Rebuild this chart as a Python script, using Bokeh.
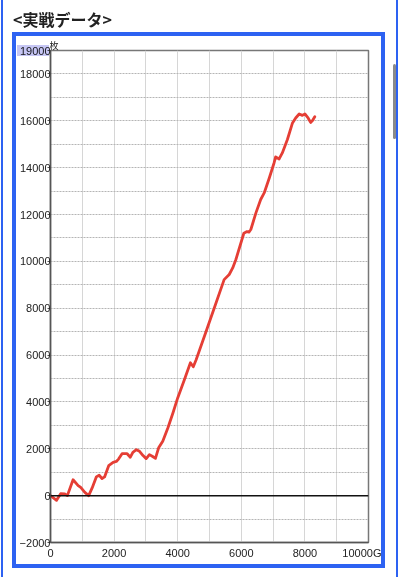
from bokeh.plotting import figure
from bokeh.models import Div, FixedTicker, Span
from bokeh.layouts import column
from bokeh.embed import file_html
from bokeh.resources import INLINE

games = [0, 190, 320, 450, 530, 710, 870, 950, 1080, 1200, 1310, 1440, 1530, 1620,
         1700, 1830, 1970, 2070, 2140, 2250, 2410, 2510, 2590, 2700, 2800, 2910, 3010,
         3110, 3200, 3300, 3400, 3530, 3690, 3850, 4000, 4210, 4400, 4490, 4580, 4840,
         5150, 5460, 5620, 5730, 5830, 6080, 6180, 6240, 6300, 6460, 6610, 6720, 6880,
         7030, 7080, 7190, 7290, 7450, 7610, 7710, 7820, 7920, 8000, 8100, 8180, 8240, 8310]
coins = [0, -200, 80, 70, 0, 680, 430, 350, 140, 0, 330, 800, 870, 730,
         800, 1280, 1420, 1460, 1560, 1790, 1790, 1640, 1850, 1960, 1890, 1710, 1580,
         1750, 1680, 1590, 2040, 2320, 2890, 3530, 4170, 4950, 5670, 5500, 5800, 6800,
         8010, 9220, 9440, 9720, 10080, 11200, 11270, 11250, 11360, 12070, 12640, 12920, 13560,
         14200, 14460, 14370, 14630, 15200, 15910, 16120, 16290, 16230, 16290, 16120, 15930, 16010, 16170]

x_ticks = [0, 2000, 4000, 6000, 8000, 10000]
x_labels = {10000: "10000G"}
y_ticks = [-2000, 0, 2000, 4000, 6000, 8000, 10000, 12000, 14000, 16000, 18000, 19000]
x_grid = list(range(0, 10001, 1000))
y_grid = list(range(-2000, 19001, 1000))
title_text = "&lt;実戦データ&gt;"
unit_text = "枚"

html = (
    '<span style="font-family:\'Noto Sans CJK JP\',sans-serif;font-weight:bold;'
    'font-size:16px;color:#222;line-height:20px;">' + title_text + '</span>'
    # text-selection highlight behind the "19000" tick label
    '<span style="position:absolute;left:12px;top:40px;width:32px;height:11px;'
    'background:#c6c6f4;mix-blend-mode:multiply;z-index:10;"></span>'
    # window edges seen in the screenshot
    '<span style="position:absolute;left:-4px;top:-8px;width:2px;height:600px;'
    'background:#2d62f2;z-index:10;"></span>'
    '<span style="position:absolute;left:391px;top:-8px;width:2px;height:600px;'
    'background:#2d62f2;z-index:10;"></span>'
    '<span style="position:absolute;left:388px;top:59px;width:3px;height:75px;'
    'background:#8a8a8a;border-radius:2px;z-index:10;"></span>'
    '<span style="position:absolute;left:-4px;top:-7px;width:400px;height:1px;'
    'background:#c8c8c8;z-index:10;"></span>'
)
title = Div(text=html, width=380, height=26,
            styles={"padding-left": "8px", "padding-top": "4px", "overflow": "visible"})

p = figure(width=365, height=528, x_range=(0, 10000), y_range=(-2000, 19000),
           output_backend="svg", toolbar_location=None,
           min_border_left=33, min_border_right=13, min_border_top=14, min_border_bottom=22)
p.styles = {"outline": "4px solid #2d62f2", "margin-left": "16px"}

p.title.text = unit_text
p.title.text_font = "Noto Sans CJK JP"
p.title.text_font_size = "9px"
p.title.text_font_style = "normal"
p.title.text_color = "#222222"
p.title.align = "left"
p.title.offset = -1
p.title.standoff = -2

p.outline_line_color = "#777777"
p.outline_line_width = 1.5

p.xaxis.ticker = FixedTicker(ticks=x_ticks)
p.xaxis.major_label_overrides = {k: v for k, v in x_labels.items()}
p.yaxis.ticker = FixedTicker(ticks=y_ticks)
for ax in (p.xaxis[0], p.yaxis[0]):
    ax.major_label_text_font = "Liberation Sans"
    ax.major_label_text_font_size = "11px"
    ax.major_label_text_color = "#222222"
    ax.minor_tick_line_color = None
    ax.axis_line_color = "#555555"
    ax.axis_line_width = 1.5
    ax.major_tick_line_color = "#555555"
    ax.major_tick_in = 0
p.xaxis.major_tick_out = 0
p.xaxis.major_label_standoff = 4
p.yaxis.major_tick_out = 3
p.yaxis.major_label_standoff = -3

p.xgrid.ticker = FixedTicker(ticks=x_grid)
p.ygrid.ticker = FixedTicker(ticks=y_grid)
p.xgrid.grid_line_color = "#d6d6d6"
p.xgrid.grid_line_width = 1
p.ygrid.grid_line_color = "#b5b5b5"
p.ygrid.grid_line_dash = "2 1"
p.ygrid.grid_line_width = 1

p.add_layout(Span(location=0, dimension="width", line_color="#111111", line_width=1.5))

p.line(games, coins, line_color="#e53e35", line_width=2.8, line_join="round", line_cap="round")

layout = column(title, p, spacing=0)
open("out.html", "w").write(file_html(layout, INLINE))
